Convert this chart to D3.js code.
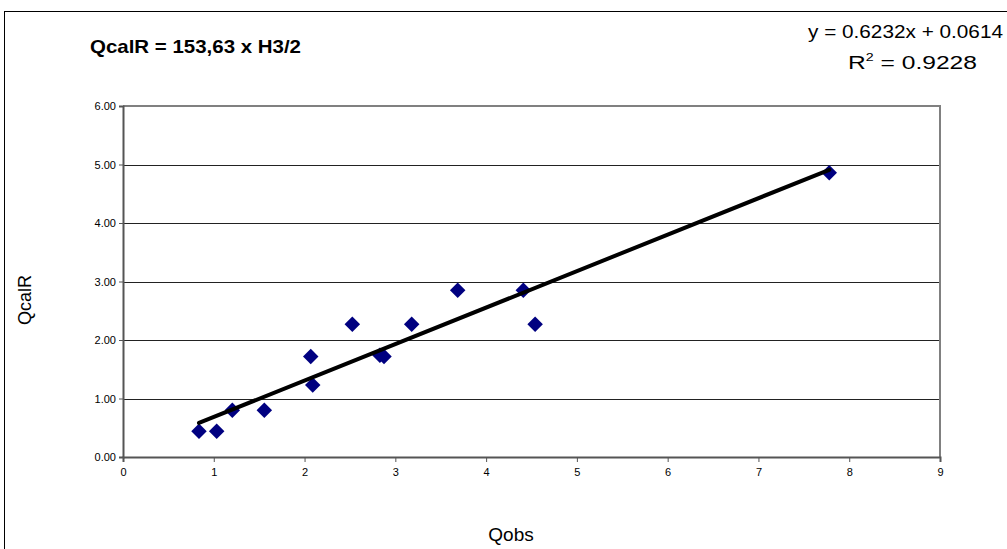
<!DOCTYPE html>
<html>
<head>
<meta charset="utf-8">
<script src="https://cdn.jsdelivr.net/npm/d3@7"></script>
<style>
  html, body { margin: 0; padding: 0; background: #fff; }
  svg { display: block; font-family: "Liberation Sans", Arial, sans-serif; }
</style>
</head>
<body>
<svg id="chart" width="1007" height="549"></svg>
<script>
// Observed discharge (Qobs) and calculated discharge (QcalR)
const qObs  = [0.837, 1.032, 1.204, 1.557, 2.068, 2.09, 2.526, 2.83, 2.875, 3.18, 3.687, 4.41, 4.54, 7.78];
const qCalR = [0.44, 0.44, 0.80, 0.80, 1.72, 1.23, 2.27, 1.74, 1.72, 2.27, 2.85, 2.85, 2.27, 4.86];

// Linear trend line coefficients (y = slope * x + intercept)
const slope = 0.6232;
const intercept = 0.0614;
const rSquared = 0.9228;

const xTicks = [0, 1, 2, 3, 4, 5, 6, 7, 8, 9];
const yTicks = [0, 1, 2, 3, 4, 5, 6];

const chartTitle = "QcalR = 153,63 x H3/2";
const xTitle = "Qobs";
const yTitle = "QcalR";

const svg = d3.select("#chart");

const plot = { left: 123, right: 940, top: 106, bottom: 457 };

const x = d3.scaleLinear().domain([0, 9]).range([plot.left, plot.right]);
const y = d3.scaleLinear().domain([0, 6]).range([plot.bottom, plot.top]);

// Chart frame
svg.append("rect")
  .attr("x", 4.5).attr("y", 11.5)
  .attr("width", 1010).attr("height", 560)
  .attr("fill", "none").attr("stroke", "#000").attr("stroke-width", 1);

// Horizontal gridlines
svg.append("g")
  .selectAll("line")
  .data(yTicks.filter(t => t > 0 && t < 6))
  .join("line")
  .attr("x1", plot.left).attr("x2", plot.right)
  .attr("y1", d => Math.round(y(d)) + 0.5).attr("y2", d => Math.round(y(d)) + 0.5)
  .attr("stroke", "#222").attr("stroke-width", 1);

// Plot-area border (top and right)
svg.append("path")
  .attr("d", `M${plot.left},${plot.top} H${plot.right} V${plot.bottom}`)
  .attr("fill", "none").attr("stroke", "#808080").attr("stroke-width", 2);

// Y axis
const yAxis = d3.axisLeft(y).tickValues(yTicks).tickFormat(d3.format(".2f")).tickSize(4).tickPadding(3);
const gy = svg.append("g").attr("transform", `translate(${plot.left},0)`).call(yAxis);
gy.select(".domain").attr("stroke", "#555").attr("stroke-width", 2);
gy.selectAll(".tick line").attr("stroke", "#555");
gy.selectAll(".tick text").attr("font-size", 11).attr("font-family", "Liberation Sans, Arial, sans-serif").attr("fill", "#000");

// X axis
const xAxis = d3.axisBottom(x).tickValues(xTicks).tickFormat(d3.format("d")).tickSize(5).tickPadding(6);
const gx = svg.append("g").attr("transform", `translate(0,${plot.bottom})`).call(xAxis);
gx.select(".domain").attr("stroke", "#555").attr("stroke-width", 2);
gx.selectAll(".tick line").attr("stroke", "#555");
gx.selectAll(".tick text").attr("font-size", 11).attr("font-family", "Liberation Sans, Arial, sans-serif").attr("fill", "#000");

// Data points (diamonds)
const pts = qObs.map((v, i) => ({ x: v, y: qCalR[i] }));
const diamond = d3.symbol().type(d3.symbolSquare).size(120);
svg.append("g")
  .selectAll("path")
  .data(pts)
  .join("path")
  .attr("d", diamond)
  .attr("transform", d => `translate(${x(d.x)},${y(d.y)}) rotate(45)`)
  .attr("fill", "#000080");

// Linear trend line across the observed range
const xMin = d3.min(qObs), xMax = d3.max(qObs);
const trend = [xMin, xMax].map(v => ({ x: v, y: slope * v + intercept }));
svg.append("path")
  .datum(trend)
  .attr("d", d3.line().x(d => x(d.x)).y(d => y(d.y)))
  .attr("stroke", "#000").attr("stroke-width", 4).attr("fill", "none")
  .attr("stroke-linecap", "round");

// Title
svg.append("text")
  .attr("x", 90).attr("y", 53)
  .attr("font-size", 19).attr("font-weight", "bold")
  .attr("textLength", 211).attr("lengthAdjust", "spacingAndGlyphs")
  .text(chartTitle);

// Trend equation and R²
svg.append("text")
  .attr("x", 808).attr("y", 38)
  .attr("font-size", 19)
  .attr("textLength", 195).attr("lengthAdjust", "spacingAndGlyphs")
  .text(`y = ${slope}x + ${intercept}`);

const r2g = svg.append("g");
const r2 = r2g.append("text")
  .attr("x", 0).attr("y", 0)
  .attr("font-size", 19);
r2.append("tspan").text("R");
r2.append("tspan").attr("dy", -8).attr("font-size", 11).text("2");
r2.append("tspan").attr("dy", 8).text(` = ${rSquared}`);
// stretch the R² label horizontally so it spans the same width as the equation style
const r2Width = r2.node().getComputedTextLength();
const r2Target = 977 - 848;
r2g.attr("transform", `translate(848,69) scale(${r2Target / r2Width},1)`);

// Axis titles
svg.append("text")
  .attr("x", 511).attr("y", 541)
  .attr("text-anchor", "middle")
  .attr("font-size", 19)
  .text(xTitle);

svg.append("text")
  .attr("transform", "translate(31,300) rotate(-90)")
  .attr("text-anchor", "middle")
  .attr("font-size", 18)
  .text(yTitle);
</script>
</body>
</html>
